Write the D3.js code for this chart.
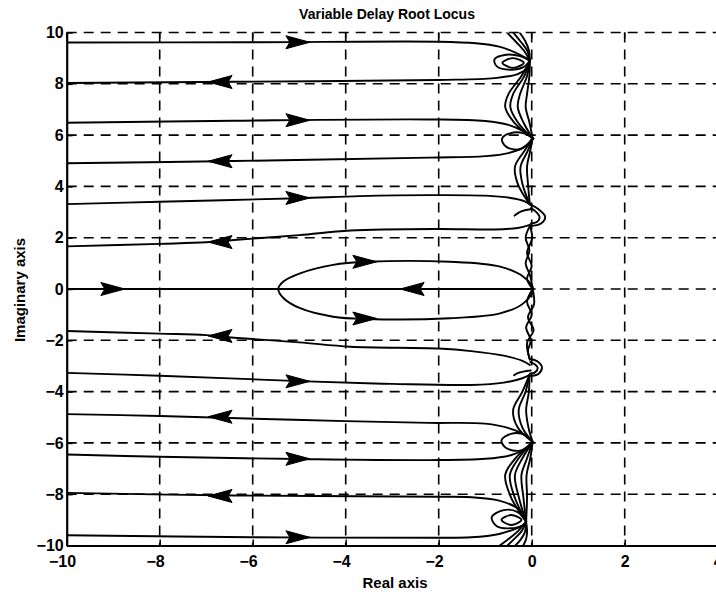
<!DOCTYPE html>
<html><head><meta charset="utf-8">
<script src="https://cdn.jsdelivr.net/npm/d3@7"></script>
<style>body{margin:0;background:#fff}svg{display:block}</style>
</head><body>
<svg id="c" width="716" height="592"></svg>
<script>
// ---------- tick values ----------
const xTicks = [-10, -8, -6, -4, -2, 0, 2, 4];
const yTicks = [-10, -8, -6, -4, -2, 0, 2, 4, 6, 8, 10];

// ---------- locus branches from the far left (x, y) ----------
const brU96 = [[-10,9.61],[-6,9.62],[-2,9.64],[-1.2,9.58],[-0.7,9.45],[-0.35,9.22],[-0.12,9.0],[-0.04,8.9]];
const brU80 = [[-10,8.03],[-6.4,8.08],[-2,8.15],[-0.8,8.22],[-0.3,8.38],[-0.1,8.62],[-0.04,8.9]];
const brU65 = [[-10,6.48],[-6.4,6.56],[-2.2,6.61],[-1,6.55],[-0.5,6.4],[-0.18,6.15],[0.02,5.88]];
const brU49 = [[-10,4.9],[-6.4,4.99],[-2.2,5.12],[-1,5.18],[-0.5,5.3],[-0.15,5.55],[0.02,5.88]];
const brU33 = [[-10,3.31],[-8,3.4],[-5,3.54],[-3.7,3.62],[-2.2,3.66],[-1,3.64],[-0.45,3.55],[-0.15,3.42],[-0.04,3.3]];
const brU17 = [[-10,1.66],[-8,1.76],[-7,1.82],[-6.4,1.91],[-5,2.1],[-3.9,2.28],[-2,2.34],[-0.8,2.32],[-0.3,2.38],[-0.04,2.5]];
const brC0  = [[-10,0],[0.03,0]];
const brL17 = [[-10,-1.64],[-8,-1.74],[-7,-1.8],[-6.4,-1.9],[-5,-2.08],[-3.9,-2.25],[-2,-2.32],[-1.3,-2.42],[-0.6,-2.6],[-0.2,-2.8],[-0.04,-2.96]];
const brL33 = [[-10,-3.27],[-8,-3.38],[-5,-3.59],[-3,-3.7],[-1.3,-3.74],[-0.6,-3.65],[-0.2,-3.48],[-0.05,-3.36]];
const brL49 = [[-10,-4.88],[-8,-4.95],[-6.3,-5.04],[-4,-5.15],[-2.2,-5.22],[-1,-5.25],[-0.45,-5.45],[-0.12,-5.72],[0.02,-5.96]];
const brL65 = [[-10,-6.45],[-8,-6.54],[-5,-6.63],[-2.2,-6.67],[-1,-6.62],[-0.45,-6.48],[-0.15,-6.25],[0.02,-5.98]];
const brL80 = [[-10,-7.95],[-6.4,-8.05],[-2,-8.1],[-1.3,-8.12],[-0.7,-8.25],[-0.35,-8.5],[-0.18,-8.8],[-0.12,-9.07]];
const brL96 = [[-10,-9.6],[-6,-9.68],[-2,-9.7],[-1.3,-9.68],[-0.7,-9.55],[-0.35,-9.35],[-0.15,-9.17],[-0.12,-9.07]];

// ---------- closed loop around the origin ----------
const ellipse0 = [[-5.45,0],[-5.34,0.29],[-4.98,0.61],[-4.27,0.94],[-3.55,1.06],[-1.76,1.06],[-0.68,0.87],[-0.18,0.48],[0.03,0],
                  [-0.18,-0.56],[-0.68,-0.95],[-1.76,-1.14],[-3.55,-1.17],[-4.27,-1.08],[-4.98,-0.75],[-5.34,-0.35]];

// ---------- strands near the imaginary axis ----------
const topU1 = [[-0.04,8.9],[-0.15,9.25],[-0.33,9.62],[-0.56,10.05]];
const topU2 = [[-0.04,8.9],[-0.1,9.3],[-0.24,9.65],[-0.42,10.05]];
const topU3 = [[-0.04,8.9],[-0.06,9.3],[-0.14,9.67],[-0.28,10.05]];
const loopU9a = [[-0.04,8.9],[-0.25,9.08],[-0.55,9.13],[-0.8,8.95],[-0.75,8.68],[-0.45,8.55],[-0.18,8.65],[-0.04,8.9]];
const loopU9b = [[-0.17,8.82],[-0.4,9.0],[-0.63,8.82],[-0.4,8.62]];
const midU1 = [[-0.04,8.9],[-0.22,8.3],[-0.5,7.6],[-0.57,7.1],[-0.38,6.5],[0.02,5.88]];
const midU2 = [[-0.04,8.9],[-0.16,8.3],[-0.4,7.6],[-0.46,7.1],[-0.3,6.5],[0.02,5.88]];
const midU3 = [[-0.04,8.9],[-0.1,8.3],[-0.25,7.6],[-0.3,7.1],[-0.18,6.5],[0.02,5.88]];
const midU4 = [[-0.04,8.9],[-0.05,8.3],[-0.1,7.6],[-0.13,7.1],[-0.05,6.5],[0.02,5.88]];
const loopU6 = [[0.04,5.86],[-0.15,6.06],[-0.45,6.08],[-0.64,5.85],[-0.55,5.55],[-0.25,5.45],[0.04,5.86]];
const midU5 = [[0.02,5.88],[-0.15,5.4],[-0.36,4.77],[-0.3,4.1],[-0.04,3.3]];
const midU6 = [[0.02,5.88],[-0.08,5.4],[-0.24,4.77],[-0.2,4.1],[-0.04,3.3]];
const midU7 = [[0.02,5.88],[-0.03,5.4],[-0.1,4.77],[-0.08,4.1],[-0.04,3.3]];
const bulgeU1 = [[-0.04,3.3],[0.14,3.12],[0.29,2.82],[0.2,2.55],[-0.04,2.45]];
const bulgeU2 = [[-0.02,3.15],[0.1,3.0],[0.17,2.8],[0.1,2.6],[-0.02,2.55]];
const hookU = [[0.0,3.12],[-0.15,3.07],[-0.28,2.98],[-0.37,2.86]];
const lowU1 = [[-0.04,2.45],[-0.13,2.0],[-0.05,1.5],[-0.13,1.0],[-0.03,0.5],[0.02,0]];
const lowU2 = [[-0.04,2.45],[0.01,2.0],[-0.1,1.4],[0.0,0.9],[-0.1,0.4],[0.02,0]];
const lowL1 = [[0.02,0],[-0.1,-0.5],[0.0,-1.0],[-0.12,-1.5],[-0.02,-2.0],[-0.08,-2.4],[-0.04,-2.75]];
const lowL2 = [[0.02,0],[0.05,-0.6],[-0.08,-1.1],[0.04,-1.6],[-0.1,-2.1],[-0.04,-2.75]];
const bulgeL1 = [[-0.04,-2.72],[0.12,-2.82],[0.22,-3.05],[0.15,-3.3],[-0.05,-3.4]];
const bulgeL2 = [[-0.03,-2.85],[0.08,-2.95],[0.13,-3.08],[0.07,-3.25],[-0.04,-3.3]];
const hookL = [[-0.02,-3.18],[-0.18,-3.22],[-0.3,-3.28],[-0.38,-3.36]];
const midL5 = [[-0.05,-3.36],[-0.2,-4.0],[-0.4,-4.72],[-0.3,-5.4],[0.02,-5.96]];
const midL6 = [[-0.05,-3.36],[-0.13,-4.0],[-0.28,-4.72],[-0.2,-5.4],[0.02,-5.96]];
const midL7 = [[-0.05,-3.36],[-0.06,-4.0],[-0.12,-4.72],[-0.07,-5.4],[0.02,-5.96]];
const loopL6 = [[0.03,-5.97],[-0.15,-5.68],[-0.45,-5.65],[-0.65,-5.9],[-0.55,-6.2],[-0.25,-6.3],[0.03,-5.97]];
const midL1 = [[0.02,-5.97],[-0.35,-6.6],[-0.57,-7.25],[-0.45,-8.1],[-0.12,-9.07]];
const midL2 = [[0.02,-5.97],[-0.28,-6.6],[-0.47,-7.25],[-0.37,-8.1],[-0.12,-9.07]];
const midL3 = [[0.02,-5.97],[-0.2,-6.6],[-0.36,-7.25],[-0.28,-8.1],[-0.12,-9.07]];
const midL4 = [[0.02,-5.97],[-0.1,-6.6],[-0.22,-7.25],[-0.18,-8.1],[-0.12,-9.07]];
const midL8 = [[0.02,-5.97],[-0.03,-6.6],[-0.11,-7.25],[-0.1,-8.1],[-0.12,-9.07]];
const loopL9a = [[-0.12,-9.07],[-0.3,-8.7],[-0.6,-8.62],[-0.86,-8.9],[-0.75,-9.25],[-0.45,-9.33],[-0.2,-9.22],[-0.12,-9.07]];
const loopL9b = [[-0.22,-9.0],[-0.44,-8.81],[-0.65,-9.0],[-0.44,-9.2]];
const botL1 = [[-0.12,-9.07],[-0.3,-9.45],[-0.5,-9.75],[-0.72,-10.05]];
const botL2 = [[-0.12,-9.07],[-0.22,-9.45],[-0.38,-9.75],[-0.55,-10.05]];
const botL3 = [[-0.12,-9.07],[-0.15,-9.5],[-0.25,-9.8],[-0.38,-10.05]];
const botL4 = [[-0.12,-9.07],[-0.1,-9.5],[-0.13,-9.8],[-0.2,-10.05]];

// ---------- arrowheads: tip x, y, direction (+1 right, -1 left) ----------
const arrowX   = [-4.77, -6.96, -4.77, -6.96, -4.77, -6.96, -8.75, -3.33, -2.83, -3.33, -6.96, -4.77, -6.96, -4.77, -6.96, -4.77];
const arrowY   = [ 9.62,  8.07,  6.58,  4.98,  3.55,  1.83,  0,     1.06,  0,    -1.15, -1.83, -3.6,  -4.98, -6.62, -8.07, -9.68];
const arrowDir = [ 1,    -1,     1,    -1,     1,    -1,     1,     1,    -1,     1,    -1,     1,    -1,     1,    -1,     1];

// ---------- drawing ----------
const W = 716, H = 592;
const svg = d3.select("#c");
svg.append("rect").attr("width", W).attr("height", H).attr("fill", "#fff");
const x = d3.scaleLinear().domain([-10, 4]).range([66.7, 717.7]);
const y = d3.scaleLinear().domain([-10, 10]).range([545.5, 32.5]);
const FONT = "'Liberation Sans', Arial, Helvetica, sans-serif";

svg.append("defs").append("clipPath").attr("id", "plot")
  .append("rect").attr("x", x(-10)).attr("y", y(10)).attr("width", x(4) - x(-10)).attr("height", y(-10) - y(10));

// grid
const grid = svg.append("g").attr("stroke", "#000").attr("stroke-width", 1.6).attr("stroke-dasharray", "10,7").attr("fill", "none");
grid.selectAll("line.v").data(xTicks.filter(d => d > -10)).join("line").attr("class", "v")
  .attr("x1", d => x(d)).attr("x2", d => x(d)).attr("y1", y(10)).attr("y2", y(-10));
grid.selectAll("line.h").data(yTicks.filter(d => d > -10)).join("line").attr("class", "h")
  .attr("x1", x(-10)).attr("x2", x(4)).attr("y1", d => y(d)).attr("y2", d => y(d));

// loci
const gL = svg.append("g").attr("clip-path", "url(#plot)").attr("fill", "none").attr("stroke", "#000")
  .attr("stroke-width", 1.9).attr("stroke-linejoin", "round").attr("stroke-linecap", "round");
const lineOpen = d3.line().x(d => x(d[0])).y(d => y(d[1])).curve(d3.curveCatmullRom.alpha(0.5));
const lineClosed = d3.line().x(d => x(d[0])).y(d => y(d[1])).curve(d3.curveCatmullRomClosed.alpha(0.5));
const openPaths = [brU96, brU80, brU65, brU49, brU33, brU17, brC0, brL17, brL33, brL49, brL65, brL80, brL96,
  topU1, topU2, topU3, loopU9a, midU1, midU2, midU3, midU4, loopU6, midU5, midU6, midU7, bulgeU1, bulgeU2, hookU,
  lowU1, lowU2, lowL1, lowL2, bulgeL1, bulgeL2, hookL, midL5, midL6, midL7, loopL6, midL1, midL2, midL3, midL4, midL8,
  loopL9a, botL1, botL2, botL3, botL4];
const closedPaths = [ellipse0, loopU9b, loopL9b];
gL.selectAll("path.o").data(openPaths).join("path").attr("class", "o").attr("d", lineOpen);
gL.selectAll("path.c").data(closedPaths).join("path").attr("class", "c").attr("d", lineClosed);

// arrowheads
const arrows = arrowX.map((ax, i) => ({x: ax, y: arrowY[i], d: arrowDir[i]}));
svg.append("g").selectAll("path").data(arrows).join("path")
  .attr("fill", "#000").attr("stroke", "#000").attr("stroke-width", 1).attr("stroke-linejoin", "miter")
  .attr("d", a => {
    const tx = x(a.x), ty = y(a.y), L = 24, hw = 6.5;
    const bx = tx - a.d * L;
    return `M${tx},${ty}L${bx},${ty - hw}L${bx + a.d * 4},${ty}L${bx},${ty + hw}Z`;
  });

// axes
const axB = svg.append("g").attr("transform", `translate(0,${y(-10)})`)
  .call(d3.axisBottom(x).tickValues(xTicks).tickSize(-6).tickSizeOuter(0).tickPadding(10)
    .tickFormat(d => d < 0 ? "\u2212" + Math.abs(d) : String(d)));
const axL = svg.append("g").attr("transform", `translate(${x(-10)},0)`)
  .call(d3.axisLeft(y).tickValues(yTicks).tickSize(-6).tickSizeOuter(0).tickPadding(3)
    .tickFormat(d => d < 0 ? "\u2212" + Math.abs(d) : String(d)));
[axB, axL].forEach(g => {
  g.select(".domain").attr("stroke", "#000").attr("stroke-width", 2.2);
  g.selectAll(".tick line").attr("stroke", "#000").attr("stroke-width", 1.5);
  g.selectAll(".tick text").attr("fill", "#000").style("font-family", FONT).style("font-size", "16px").style("font-weight", "bold");
});
axB.selectAll(".tick text").attr("dx", d => d < 0 ? "-0.29em" : 0);
// top inward ticks
svg.append("g").selectAll("line").data(xTicks).join("line")
  .attr("x1", d => x(d)).attr("x2", d => x(d)).attr("y1", y(10)).attr("y2", y(10) + 6)
  .attr("stroke", "#000").attr("stroke-width", 1.5);

// titles
svg.append("text").attr("x", 387).attr("y", 19).attr("text-anchor", "middle")
  .style("font-family", FONT).style("font-size", "14px").style("font-weight", "bold").text("Variable Delay Root Locus");
svg.append("text").attr("x", 395).attr("y", 588).attr("text-anchor", "middle")
  .style("font-family", FONT).style("font-size", "15px").style("font-weight", "bold").text("Real axis");
svg.append("text").attr("transform", "translate(25,290) rotate(-90)").attr("text-anchor", "middle")
  .style("font-family", FONT).style("font-size", "15px").style("font-weight", "bold").text("Imaginary axis");
</script>
</body></html>
